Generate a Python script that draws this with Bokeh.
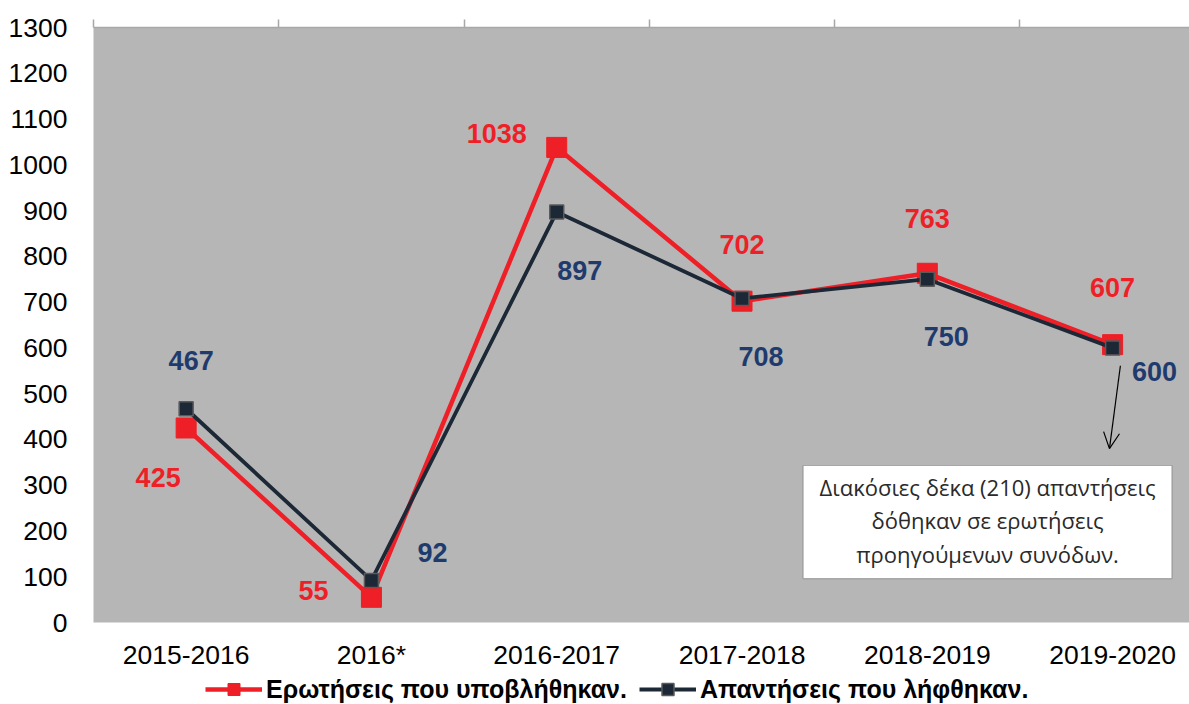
from bokeh.plotting import figure
from bokeh.layouts import column
from bokeh.models import (ColumnDataSource, FixedTicker, LinearAxis, Legend, LegendItem,
                          BoxAnnotation, Label, Arrow, OpenHead, Range1d)
from bokeh.embed import file_html
from bokeh.resources import INLINE
from bokeh.core.properties import value

categories = ["2015-2016", "2016*", "2016-2017", "2017-2018", "2018-2019", "2019-2020"]
questions = [425, 55, 1038, 702, 763, 607]
answers = [467, 92, 897, 708, 750, 600]
y_ticks = list(range(0, 1301, 100))

q_name = "Ερωτήσεις που υποβλήθηκαν."
a_name = "Απαντήσεις που λήφθηκαν."
note_lines = ["Διακόσιες δέκα (210) απαντήσεις", "δόθηκαν σε ερωτήσεις", "προηγούμενων συνόδων."]

# label offsets (screen px), style only
q_dx = [-28, -58, -60, 0, 0, 0]
q_dy = [50, -7, -14, -57, -55, -57]
a_dx = [5, 61, 23, 19, 19, 42]
a_dy = [-48, -28, 59, 58, 57, 24]

xs = list(range(len(categories)))

RED = "#ee1f26"
DARK = "#1c2836"
BLUE = "#1f3b6e"
BG = "#b6b6b6"

W = 1189
p = figure(width=W, height=674, output_backend="svg", toolbar_location=None,
           x_range=Range1d(-0.5, 5.415), y_range=Range1d(0, 1300),
           min_border_left=93, min_border_right=0, min_border_top=27, min_border_bottom=52,
           x_axis_location=None, y_axis_location=None)
p.background_fill_color = BG
p.border_fill_color = "white"
p.outline_line_color = None
p.xgrid.visible = False
p.ygrid.visible = False

# left axis
ya = LinearAxis(ticker=FixedTicker(ticks=y_ticks))
ya.axis_line_color = None
ya.major_tick_line_color = None
ya.minor_tick_line_color = None
ya.major_label_standoff = 20
ya.major_label_text_font = "Liberation Sans"
ya.major_label_text_font_size = "26.5px"
ya.major_label_text_color = "black"
p.add_layout(ya, "left")

# bottom axis with category labels
xa = LinearAxis(ticker=FixedTicker(ticks=xs))
xa.major_label_overrides = {i: c for i, c in zip(xs, categories)}
xa.axis_line_color = None
xa.major_tick_line_color = None
xa.minor_tick_line_color = None
xa.major_label_standoff = 11
xa.major_label_text_font = "Liberation Sans"
xa.major_label_text_font_size = "26.5px"
xa.major_label_text_color = "black"
p.add_layout(xa, "below")

# top axis line with boundary ticks
ta = LinearAxis(ticker=FixedTicker(ticks=[i - 0.5 for i in range(len(categories) + 1)]))
ta.axis_line_color = "#a8a8a8"
ta.axis_line_width = 1.5
ta.major_tick_line_color = "#a8a8a8"
ta.major_tick_line_width = 1.5
ta.major_tick_out = 8
ta.major_tick_in = 0
ta.minor_tick_line_color = None
ta.major_label_text_font_size = "0px"
ta.major_label_text_alpha = 0
ta.major_label_standoff = 0
p.add_layout(ta, "above")

qsrc = ColumnDataSource(dict(x=xs, y=questions, t=[str(v) for v in questions], dx=q_dx, dy=q_dy))
asrc = ColumnDataSource(dict(x=xs, y=answers, t=[str(v) for v in answers], dx=a_dx, dy=a_dy))

p.line("x", "y", source=qsrc, line_color=RED, line_width=4.5)
p.scatter("x", "y", source=qsrc, marker="square", size=20, fill_color=RED, line_color=RED)
p.line("x", "y", source=asrc, line_color=DARK, line_width=3.8)
p.scatter("x", "y", source=asrc, marker="square", size=14, fill_color=DARK,
          line_color="#5a5a5a", line_width=1.5)

p.text("x", "y", text="t", source=qsrc, x_offset="dx", y_offset="dy",
       text_font=value("Liberation Sans"), text_font_style="bold", text_font_size="27px",
       text_color=RED, text_align="center", text_baseline="middle")
p.text("x", "y", text="t", source=asrc, x_offset="dx", y_offset="dy",
       text_font=value("Liberation Sans"), text_font_style="bold", text_font_size="27px",
       text_color=BLUE, text_align="center", text_baseline="middle")

# note box and arrow
box = BoxAnnotation(left=3.33, right=5.32, bottom=96, top=343, fill_color="white",
                    fill_alpha=1, line_color="#333333", line_width=1.2, level="annotation")
p.add_layout(box)
for yy, line in zip([297, 223, 149], note_lines):
    lab = Label(x=4.325, y=yy, text=line, text_align="center", text_baseline="middle",
                text_font="Open Sans", text_font_size="22px", text_color="#2a2a2a",
                level="overlay")
    p.add_layout(lab)
arr = Arrow(x_start=5.042, y_start=561, x_end=4.983, y_end=380,
            line_color="black", line_width=1.2,
            end=OpenHead(size=16, line_color="black", line_width=1.2))
p.add_layout(arr)

# legend strip
lg = figure(width=W, height=30, output_backend="svg", toolbar_location=None,
            x_range=Range1d(0, 1), y_range=Range1d(0, 1),
            min_border=0, x_axis_location=None, y_axis_location=None)
lg.outline_line_color = None
lg.xgrid.visible = False
lg.ygrid.visible = False
lg.background_fill_color = "white"
ql2 = lg.line([-5, -4], [-5, -5], line_color=RED, line_width=4.5)
qm2 = lg.scatter([-5], [-5], marker="square", size=20, fill_color=RED, line_color=RED)
al2 = lg.line([-5, -4], [-5, -5], line_color=DARK, line_width=3.8)
am2 = lg.scatter([-5], [-5], marker="square", size=14, fill_color=DARK,
                 line_color="#5a5a5a", line_width=1.5)
legend = Legend(items=[LegendItem(label=q_name, renderers=[ql2, qm2]),
                       LegendItem(label=a_name, renderers=[al2, am2])],
                orientation="horizontal", location=(112, 0))
legend.label_text_font = "Liberation Sans"
legend.label_text_font_style = "bold"
legend.label_text_font_size = "25px"
legend.label_text_color = "black"
legend.glyph_width = 57
legend.glyph_height = 30
legend.spacing = 12
legend.padding = 0
legend.margin = 0
legend.label_standoff = 4
legend.border_line_color = None
legend.background_fill_alpha = 0
lg.add_layout(legend)

layout = column(p, lg, spacing=0)
open("out.html", "w").write(file_html(layout, INLINE))
